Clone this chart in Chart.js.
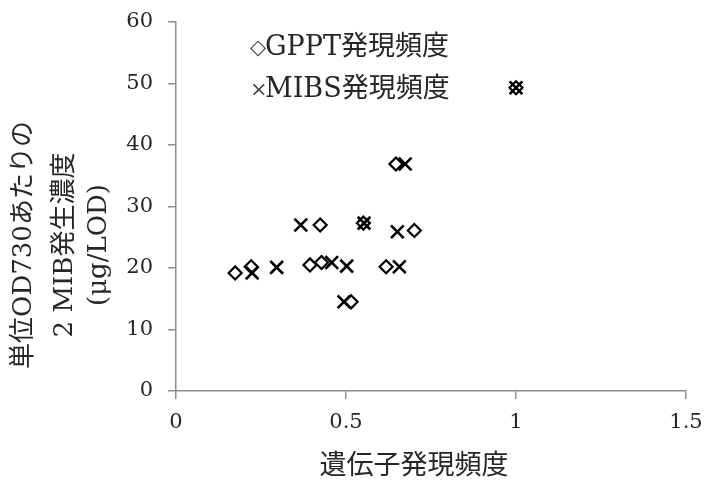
<!DOCTYPE html>
<html>
<head>
<meta charset="utf-8">
<script src="https://cdn.jsdelivr.net/npm/chart.js@4/dist/chart.umd.min.js"></script>
<style>
  html, body { margin: 0; padding: 0; background: #fff; }
  canvas { display: block; }
</style>
</head>
<body>
<canvas id="c" width="707" height="491"></canvas>
<script>
// Series names and the symbol shown in front of each legend entry
const seriesNames = ['GPPT発現頻度', 'MIBS発現頻度'];
const legendMarks = ['◇', '×'];

// Gene expression frequency (x) vs 2-MIB production per OD730 (y)
const gpptX = [0.174, 0.221, 0.394, 0.428, 0.424, 0.515, 0.551, 0.618, 0.647, 0.701, 1.0];
const gpptY = [19.2, 20.2, 20.5, 20.9, 27.0, 14.5, 27.3, 20.2, 36.9, 26.1, 49.3];
const mibsX = [0.224, 0.296, 0.367, 0.458, 0.502, 0.494, 0.553, 0.657, 0.651, 0.674, 1.0];
const mibsY = [19.2, 20.1, 27.0, 20.9, 20.3, 14.5, 27.3, 20.2, 25.9, 36.9, 49.3];

// Axis ticks and titles
const xTicks = [0, 0.5, 1, 1.5];
const yTicks = [0, 10, 20, 30, 40, 50, 60];
const xTitle = '遺伝子発現頻度';
const yTitleLines = ['単位OD730あたりの', '2 MIB発生濃度', '(μg/LOD)'];

const FAMILY = "'DejaVu Serif', 'Noto Sans CJK JP', serif";
const TEXT = '#262626';
const AXIS = '#8c8c8c';

const toPoints = (xs, ys) => xs.map((x, i) => ({ x, y: ys[i] }));

// Axis titles (the y title is three rotated lines) and the two-line legend
const annotations = {
  id: 'annotations',
  afterDraw(chart) {
    const ctx = chart.ctx;
    ctx.save();
    ctx.fillStyle = TEXT;
    ctx.font = `26px ${FAMILY}`;
    ctx.textAlign = 'center';
    ctx.textBaseline = 'middle';
    const lineX = [24, 65, 99];
    yTitleLines.forEach((line, i) => {
      ctx.save();
      ctx.translate(lineX[i], 245);
      ctx.rotate(-Math.PI / 2);
      ctx.fillText(line, 0, 0);
      ctx.restore();
    });

    ctx.font = `27px ${FAMILY}`;
    ctx.fillText(xTitle, 414, 467);

    const rowY = [48, 90];
    ctx.textAlign = 'left';
    chart.data.datasets.forEach((ds, i) => {
      ctx.font = `21px ${FAMILY}`;
      ctx.fillStyle = '#444';
      ctx.fillText(legendMarks[i], 250, rowY[i] + 1);
      ctx.font = `27px ${FAMILY}`;
      ctx.fillStyle = TEXT;
      ctx.fillText(ds.label, 265, rowY[i]);
    });
    ctx.restore();
  }
};

new Chart(document.getElementById('c'), {
  type: 'scatter',
  data: {
    datasets: [
      {
        label: seriesNames[0],
        data: toPoints(gpptX, gpptY),
        pointStyle: 'rectRot',
        pointRadius: 6.5,
        pointHoverRadius: 6.5,
        borderWidth: 2.2,
        borderColor: '#000',
        backgroundColor: 'rgba(0,0,0,0)'
      },
      {
        label: seriesNames[1],
        data: toPoints(mibsX, mibsY),
        pointStyle: 'crossRot',
        pointRadius: 9,
        pointHoverRadius: 9,
        borderWidth: 2.6,
        borderColor: '#000',
        backgroundColor: '#000'
      }
    ]
  },
  options: {
    responsive: false,
    animation: false,
    devicePixelRatio: 1,
    layout: { padding: { left: 0, top: 22, right: 21, bottom: 0 } },
    plugins: {
      legend: { display: false },
      tooltip: { enabled: false }
    },
    scales: {
      x: {
        type: 'linear',
        min: 0,
        max: 1.5,
        afterBuildTicks: s => { s.ticks = xTicks.map(v => ({ value: v })); },
        afterFit: s => { s.height = 100; s.paddingLeft = 0; s.paddingRight = 0; },
        border: { display: true, color: AXIS, width: 1.5 },
        grid: { drawOnChartArea: false, drawTicks: true, tickLength: 8, color: AXIS, lineWidth: 1.5 },
        ticks: { color: TEXT, font: { family: FAMILY, size: 21 }, padding: 11, callback: v => String(v) },
        title: { display: false }
      },
      y: {
        type: 'linear',
        min: 0,
        max: 60,
        afterBuildTicks: s => { s.ticks = yTicks.map(v => ({ value: v })); },
        afterFit: s => { s.width = 176; s.paddingTop = 0; s.paddingBottom = 0; },
        border: { display: true, color: AXIS, width: 1.5 },
        grid: { drawOnChartArea: false, drawTicks: true, tickLength: 8, color: AXIS, lineWidth: 1.5 },
        ticks: { color: TEXT, font: { family: FAMILY, size: 21 }, padding: 15, callback: v => String(v) }
      }
    }
  },
  plugins: [annotations]
});
</script>
</body>
</html>
